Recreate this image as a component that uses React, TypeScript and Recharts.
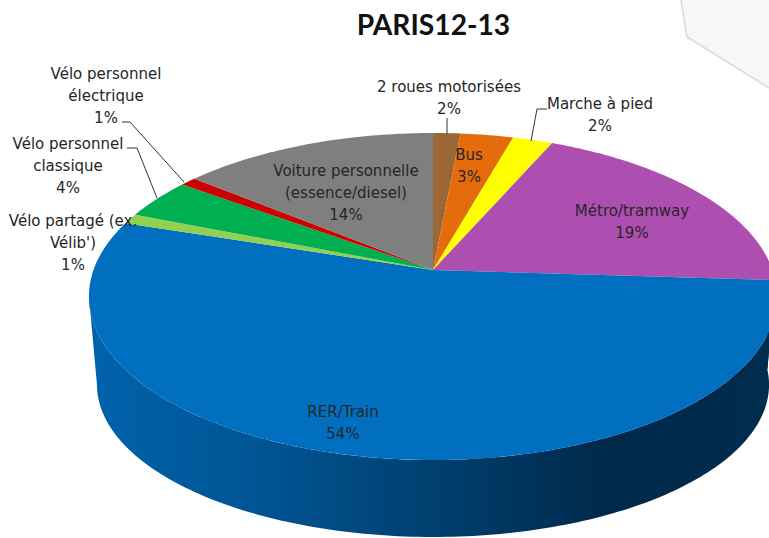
import React from "react";
import { PieChart, Pie, Cell } from "recharts";

const categories = [
  "2 roues motorisées",
  "Bus",
  "Marche à pied",
  "Métro/tramway",
  "RER/Train",
  "Vélo partagé (ex. Vélib')",
  "Vélo personnel classique",
  "Vélo personnel électrique",
  "Voiture personnelle (essence/diesel)",
];
const shares = [1.5, 2.9, 2.2, 19.4, 54, 1, 4, 0.9, 14.1];
const colors = ["#9B6735", "#E46C0A", "#FFFF00", "#AD4FB0", "#006FC0", "#92D050", "#00B050", "#CC0000", "#7F7F7F"];
const labelLines = [
  ["2 roues motorisées"],
  ["Bus"],
  ["Marche à pied"],
  ["Métro/tramway"],
  ["RER/Train"],
  ["Vélo partagé (ex.", "Vélib')"],
  ["Vélo personnel", "classique"],
  ["Vélo personnel", "électrique"],
  ["Voiture personnelle", "(essence/diesel)"],
];
const labelX = [449, 469, 600, 632, 343, 73, 68, 106, 346];
const labelY = [87, 155, 104, 211, 412, 221, 144, 74, 171];
const leaders: (number[][] | null)[] = [
  [[447, 118], [447, 134]],
  null,
  [[547, 109], [537, 109], [531, 141]],
  null,
  null,
  null,
  [[127, 148], [137, 148], [157, 198]],
  [[122, 122], [130, 122], [184, 182]],
  null,
];

const data = categories.map((name, i) => ({ name, value: shares[i] }));

const W = 769;
const H = 538;
const CX = 433;
const CY = 270;
const K = 0.162;
const top = { ax: 339.5, by: 159.2, y: CY };
const bottom = { ax: 331.6, by: 148.3, y: 360 };

type Rim = { ax: number; by: number; y: number };
const project = (rim: Rim, theta: number): [number, number] => {
  const r = (theta * Math.PI) / 180;
  const u = Math.sin(r);
  const v = Math.cos(r);
  const d = 1 + K * v;
  return [CX + (rim.ax * u) / d, rim.y - (rim.by * v) / d];
};
const arc = (rim: Rim, from: number, to: number): string[] => {
  const n = Math.max(2, Math.ceil(Math.abs(to - from)));
  const out: string[] = [];
  for (let i = 0; i <= n; i++) {
    const [x, y] = project(rim, from + ((to - from) * i) / n);
    out.push(`${x.toFixed(2)} ${y.toFixed(2)}`);
  }
  return out;
};

const TopSlice = (p: any) => {
  const a = 90 - p.startAngle;
  const b = 90 - p.endAngle;
  const d = `M${CX} ${CY}L${arc(top, a, b).join("L")}Z`;
  return <path d={d} fill={p.fill} stroke="none" />;
};

const WALL_FROM = 90;
const WALL_TO = 260.7;
const WallSlice = (p: any) => {
  const a = Math.max(90 - p.startAngle, WALL_FROM);
  const b = Math.min(90 - p.endAngle, WALL_TO);
  if (b <= a) return <g />;
  const d = `M${arc(top, a, b).join("L")}L${arc(bottom, b, a).join("L")}Z`;
  return (
    <g>
      <defs>
        <linearGradient id="wall" gradientUnits="userSpaceOnUse" x1={98} y1={0} x2={769} y2={0}>
          <stop offset="0" stopColor="#0062AA" />
          <stop offset="0.28" stopColor="#00528F" />
          <stop offset="0.55" stopColor="#003B68" />
          <stop offset="0.76" stopColor="#00294A" />
          <stop offset="1" stopColor="#002C4E" />
        </linearGradient>
      </defs>
      <path d={d} fill="url(#wall)" stroke="none" />
    </g>
  );
};

const FONT = "'DejaVu Sans', sans-serif";
const renderLabel = (p: any) => {
  const i = p.index;
  const lines = [...labelLines[i], `${Math.round(shares[i])}%`];
  const lead = leaders[i];
  return (
    <g key={i}>
      {lead && (
        <polyline
          points={lead.map((q) => q.join(",")).join(" ")}
          fill="none"
          stroke="#333"
          strokeWidth={1}
        />
      )}
      {lines.map((t, j) => (
        <text
          key={j}
          x={labelX[i]}
          y={labelY[i] + j * 22}
          textAnchor="middle"
          dominantBaseline="central"
          fontFamily={FONT}
          fontSize={15}
          fill="#262626"
        >
          {t}
        </text>
      ))}
    </g>
  );
};

export default function App() {
  return (
    <div style={{ position: "absolute", left: 0, top: 0, width: W, height: H, overflow: "hidden", background: "#fff" }}>
      <svg width={W} height={H} style={{ position: "absolute", left: 0, top: 0 }}>
        <polygon points="681,0 687,37 769,88 769,0" fill="#F8F7F8" stroke="none" />
        <polyline points="681,0 687,37 769,88" fill="none" stroke="#D9D9D9" strokeWidth={1.5} />
        <text x={433.5} y={23.5} textAnchor="middle" dominantBaseline="central" fontFamily="Lato, sans-serif" fontWeight={700} fontSize={28.2} fill="#111">
          PARIS12-13
        </text>
      </svg>
      <div style={{ position: "absolute", left: 0, top: 0 }}>
        <PieChart width={W} height={H} margin={{ top: 0, right: 0, bottom: 0, left: 0 }}>
          <Pie
            data={data}
            dataKey="value"
            cx={CX}
            cy={CY}
            outerRadius={159}
            startAngle={90}
            endAngle={-270}
            isAnimationActive={false}
            shape={WallSlice}
            stroke="none"
            legendType="none"
          >
            {data.map((d, i) => (
              <Cell key={d.name} fill={colors[i]} />
            ))}
          </Pie>
          <Pie
            data={data}
            dataKey="value"
            cx={CX}
            cy={CY}
            outerRadius={159}
            startAngle={90}
            endAngle={-270}
            isAnimationActive={false}
            shape={TopSlice}
            stroke="none"
            label={renderLabel}
            labelLine={false}
          >
            {data.map((d, i) => (
              <Cell key={d.name} fill={colors[i]} />
            ))}
          </Pie>
        </PieChart>
      </div>
    </div>
  );
}
